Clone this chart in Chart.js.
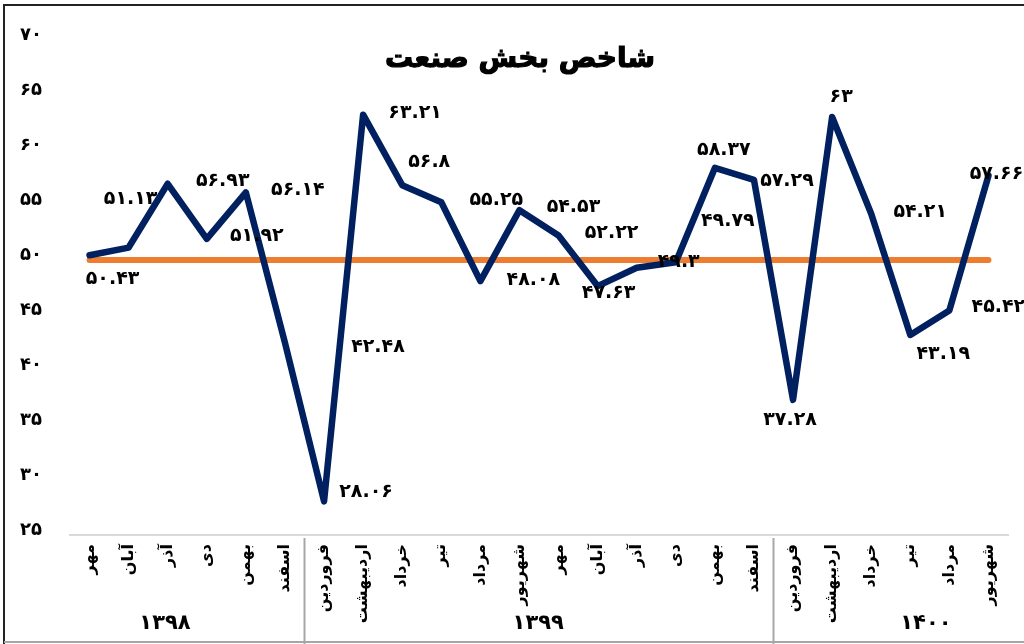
<!DOCTYPE html>
<html lang="fa">
<head>
<meta charset="utf-8">
<script src="https://cdn.jsdelivr.net/npm/chart.js@4.4.1/dist/chart.umd.min.js"></script>
<style>
  html, body { margin: 0; padding: 0; background: #fff; }
  canvas { display: block; }
</style>
</head>
<body>
<canvas id="industry" width="1024" height="644"></canvas>
<script>
// monthly industry index, grouped by year
const months1398 = ["مهر", "آبان", "آذر", "دی", "بهمن", "اسفند"];
const months1399 = ["فروردین", "اردیبهشت", "خرداد", "تیر", "مرداد", "شهریور",
                    "مهر", "آبان", "آذر", "دی", "بهمن", "اسفند"];
const months1400 = ["فروردین", "اردیبهشت", "خرداد", "تیر", "مرداد", "شهریور"];
const years = ["۱۳۹۸", "۱۳۹۹", "۱۴۰۰"];

const industryIndex = [50.43, 51.13, 56.93, 51.92, 56.14, 42.48,
                       28.06, 63.21, 56.8, 55.25, 48.08, 54.53,
                       52.22, 47.63, 49.3, 49.79, 58.37, 57.29,
                       37.28, 63, 54.21, 43.19, 45.42, 57.66];
const threshold = 50;
const yMin = 25, yMax = 70, yStep = 5;

// where each value label sits, relative to its point
const labelOffsets = [[23, 24], [2, -49], [55, -3], [50, -3], [52, -2], [93, 4],
                      [42, -9], [52, -2], [27, -23], [55, -2], [53, -1], [54, -3],
                      [53, -3], [11, 7], [42, -6], [52, -41], [9, -18], [33, 1],
                      [-3, 20], [9, -20], [49, -2], [33, 19], [49, -3], [8, -2]];

const monthGroups = [months1398, months1399, months1400];
const labels = monthGroups.flat();

const faDigits = "۰۱۲۳۴۵۶۷۸۹";
const toFa = s => String(s).replace(/[0-9]/g, d => faDigits[+d]);

const FONT = '"DejaVu Sans", sans-serif';

const decorations = {
  id: "decorations",
  beforeDraw(chart) {
    const ctx = chart.ctx;
    ctx.save();
    ctx.fillStyle = "#fff";
    ctx.fillRect(0, 0, chart.width, chart.height);
    ctx.restore();
  },
  afterDraw(chart) {
    const ctx = chart.ctx;
    const x = chart.scales.x;
    const area = chart.chartArea;
    ctx.save();

    // outer frame
    ctx.lineWidth = 2;
    ctx.strokeStyle = "#222";
    ctx.beginPath();
    ctx.moveTo(4, chart.height);
    ctx.lineTo(4, 5);
    ctx.lineTo(chart.width, 5);
    ctx.stroke();
    ctx.strokeStyle = "#a6a6a6";
    ctx.beginPath();
    ctx.moveTo(4, 642);
    ctx.lineTo(chart.width, 642);
    ctx.stroke();

    // title, thickened with a thin stroke
    ctx.fillStyle = "#000";
    ctx.strokeStyle = "#000";
    ctx.lineWidth = 1.2;
    ctx.font = "bold 28px " + FONT;
    ctx.textAlign = "center";
    ctx.textBaseline = "middle";
    ctx.fillText("شاخص بخش صنعت", 520, 60);
    ctx.strokeText("شاخص بخش صنعت", 520, 60);

    // year separators and year names
    ctx.strokeStyle = "#a6a6a6";
    ctx.lineWidth = 2;
    let start = 0;
    const yearCenters = [1.93, 11.48, 21.4];
    monthGroups.forEach((g, i) => {
      const end = start + g.length;
      if (i < monthGroups.length - 1) {
        const px = x.getPixelForValue(end - 0.5);
        ctx.beginPath();
        ctx.moveTo(px, area.bottom + 3);
        ctx.lineTo(px, chart.height);
        ctx.stroke();
      }
      ctx.font = "bold 21px " + FONT;
      ctx.fillText(years[i], x.getPixelForValue(yearCenters[i]), 624);
      start = end;
    });

    // value labels
    const meta = chart.getDatasetMeta(0);
    ctx.font = "bold 19px " + FONT;
    meta.data.forEach((pt, i) => {
      const [dx, dy] = labelOffsets[i];
      ctx.fillText(toFa(industryIndex[i]), pt.x + dx, pt.y + dy);
    });
    ctx.restore();
  }
};

new Chart(document.getElementById("industry"), {
  type: "line",
  data: {
    labels: labels,
    datasets: [
      {
        data: industryIndex,
        borderColor: "#002060",
        borderWidth: 6.5,
        borderJoinStyle: "round",
        borderCapStyle: "round",
        pointRadius: 0,
        tension: 0,
        order: 0
      },
      {
        data: labels.map(() => threshold),
        borderColor: "#ED7D31",
        borderWidth: 6,
        borderCapStyle: "round",
        pointRadius: 0,
        order: 1
      }
    ]
  },
  options: {
    responsive: false,
    animation: false,
    layout: { padding: { left: 0, right: 16, top: 40, bottom: 0 } },
    plugins: {
      legend: { display: false },
      tooltip: { enabled: false }
    },
    scales: {
      x: {
        offset: true,
        grid: { display: false, drawTicks: false },
        border: { color: "#d9d9d9", width: 2 },
        ticks: {
          autoSkip: false,
          minRotation: 90,
          maxRotation: 90,
          padding: 9,
          color: "#000",
          font: { family: FONT, size: 16, weight: "bold" }
        },
        afterFit: s => { s.height = 109; }
      },
      y: {
        min: yMin,
        max: yMax,
        grid: { display: false, drawTicks: false },
        border: { display: false },
        ticks: {
          stepSize: yStep,
          padding: 28,
          crossAlign: "center",
          labelOffset: -5,
          color: "#000",
          font: { family: FONT, size: 18, weight: "bold" },
          callback: v => toFa(v)
        },
        afterFit: s => { s.width = 70; }
      }
    }
  },
  plugins: [decorations]
});
</script>
</body>
</html>
